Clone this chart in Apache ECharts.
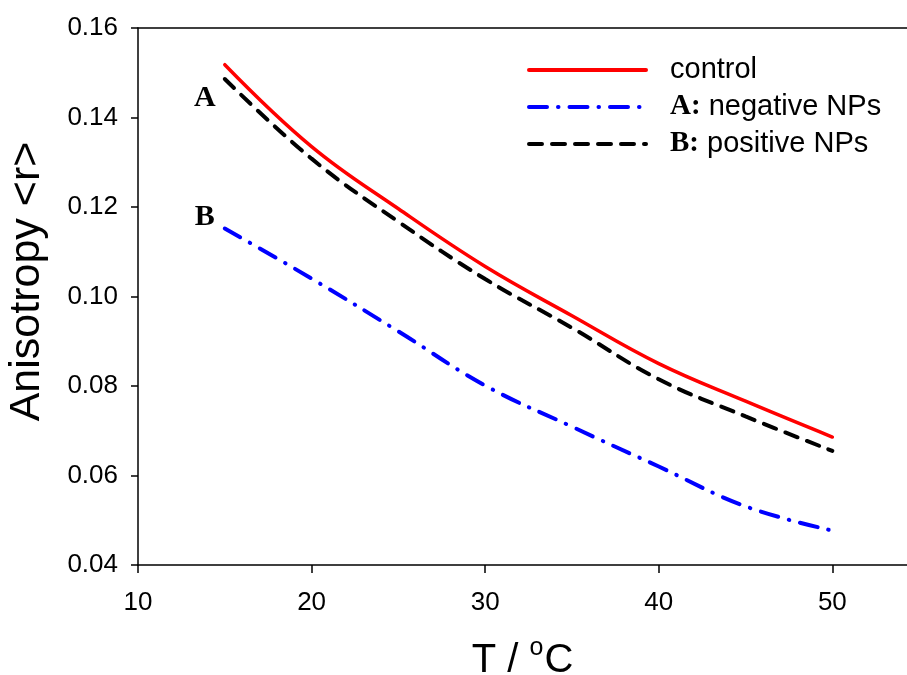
<!DOCTYPE html>
<html>
<head>
<meta charset="utf-8">
<script src="https://cdn.jsdelivr.net/npm/echarts@6/dist/echarts.min.js"></script>
<style>
html,body{margin:0;padding:0;background:#fff;}
#c{width:907px;height:675px;}
</style>
</head>
<body>
<div id="c"></div>
<script>
// ---- data ----
const temps = [15, 20, 25, 30, 35, 40, 45, 50];
const control = [0.1518, 0.1335, 0.1196, 0.1067, 0.0957, 0.0850, 0.0766, 0.0686];
const negativeNPs = [0.1152, 0.1040, 0.0922, 0.0801, 0.0709, 0.0620, 0.0531, 0.0477];
const positiveNPs = [0.1486, 0.1308, 0.1167, 0.1039, 0.0930, 0.0815, 0.0732, 0.0655];
const seriesNames = ['control', 'A: negative NPs', 'B: positive NPs'];
const xTicks = [10, 20, 30, 40, 50];
const yTicks = [0.04, 0.06, 0.08, 0.10, 0.12, 0.14, 0.16];
const annotationText = ['A', 'B'];
const annotationX = [13.85, 13.85];
const annotationY = [0.1443, 0.1178];

const FONT = "'Liberation Sans', Arial, sans-serif";
const SERIF = "'Liberation Serif', 'Times New Roman', serif";

function pairs(xs, ys) { return xs.map((x, i) => [x, ys[i]]); }

const chart = echarts.init(document.getElementById('c'), null, {renderer: 'canvas'});
chart.setOption({
  animation: false,
  backgroundColor: '#fff',
  grid: {left: 138, top: 28, right: 0, bottom: 110, containLabel: false, outerBoundsMode: 'none'},
  legend: {
    data: seriesNames,
    orient: 'vertical',
    left: 527,
    top: 55,
    padding: 0,
    itemWidth: 117,
    itemHeight: 14,
    itemGap: 7,
    selectedMode: false,
    itemStyle: {opacity: 0},
    lineStyle: {width: 4, cap: 'round'},
    formatter: function (name) {
      const i = name.indexOf(':');
      if (i < 0) return '{n|' + name + '}';
      return '{b|' + name.slice(0, i + 1) + '}{n|' + name.slice(i + 1) + '}';
    },
    textStyle: {
      padding: [0, 0, 0, 19],
      lineHeight: 30,
      rich: {
        n: {fontFamily: FONT, fontSize: 29, color: '#000', lineHeight: 30},
        b: {fontFamily: SERIF, fontSize: 29, fontWeight: 'bold', color: '#000', lineHeight: 30}
      }
    }
  },
  xAxis: [{
    type: 'value',
    min: 10,
    max: 54.3,
    interval: 10,
    position: 'bottom',
    name: '{t|T / }{s|o}{t|C}',
    nameLocation: 'middle',
    nameGap: 71,
    nameTextStyle: {
      rich: {
        t: {fontFamily: FONT, fontSize: 40, color: '#000'},
        s: {fontFamily: FONT, fontSize: 25, color: '#000', verticalAlign: 'bottom', padding: [0, 1, 24, 0]}
      }
    },
    axisLine: {show: true, onZero: false, lineStyle: {color: '#000', width: 1.5}},
    axisTick: {show: true, inside: false, length: 8, customValues: xTicks, lineStyle: {color: '#000', width: 1.5}},
    axisLabel: {
      customValues: xTicks,
      margin: 25,
      fontFamily: FONT, fontSize: 26, color: '#000',
      formatter: v => String(v)
    },
    splitLine: {show: false}
  }, {
    type: 'value',
    min: 10,
    max: 54.3,
    position: 'top',
    axisLine: {show: true, onZero: false, lineStyle: {color: '#000', width: 1.5}},
    axisTick: {show: false},
    axisLabel: {show: false},
    splitLine: {show: false}
  }],
  yAxis: {
    type: 'value',
    min: 0.04,
    max: 0.16,
    interval: 0.02,
    name: 'Anisotropy <r>',
    nameLocation: 'middle',
    nameGap: 89,
    nameTextStyle: {fontFamily: FONT, fontSize: 43, color: '#000', padding: [0, 0, 0, 30]},
    axisLine: {show: true, onZero: false, lineStyle: {color: '#000', width: 1.5}},
    axisTick: {show: true, inside: false, length: 7, customValues: yTicks, lineStyle: {color: '#000', width: 1.5}},
    axisLabel: {
      customValues: yTicks,
      margin: 20,
      fontFamily: FONT, fontSize: 26, color: '#000',
      formatter: v => v.toFixed(2)
    },
    splitLine: {show: false}
  },
  series: [{
    name: seriesNames[0],
    type: 'line',
    data: pairs(temps, control),
    smooth: 0.4,
    showSymbol: false,
    symbol: 'none',
    color: '#ff0000',
    lineStyle: {color: '#ff0000', width: 3.5, cap: 'round'}
  }, {
    name: seriesNames[1],
    type: 'line',
    data: pairs(temps, negativeNPs),
    smooth: 0.4,
    showSymbol: false,
    symbol: 'none',
    color: '#0000ff',
    lineStyle: {color: '#0000ff', width: 4, type: [18, 11, 0.5, 11], cap: 'round'}
  }, {
    name: seriesNames[2],
    type: 'line',
    data: pairs(temps, positiveNPs),
    smooth: 0.4,
    showSymbol: false,
    symbol: 'none',
    color: '#000000',
    lineStyle: {color: '#000000', width: 4, type: [13, 10], cap: 'round'}
  }, {
    name: 'annotations',
    type: 'scatter',
    data: annotationX.map((x, i) => ({value: [x, annotationY[i]], name: annotationText[i]})),
    symbolSize: 2,
    itemStyle: {color: 'rgba(255,255,255,0)'},
    silent: true,
    label: {
      show: true,
      position: 'inside',
      formatter: p => p.name,
      fontFamily: SERIF,
      fontSize: 30,
      fontWeight: 'bold',
      color: '#000000',
      opacity: 1,
      textBorderWidth: 0
    }
  }]
});
</script>
</body>
</html>
